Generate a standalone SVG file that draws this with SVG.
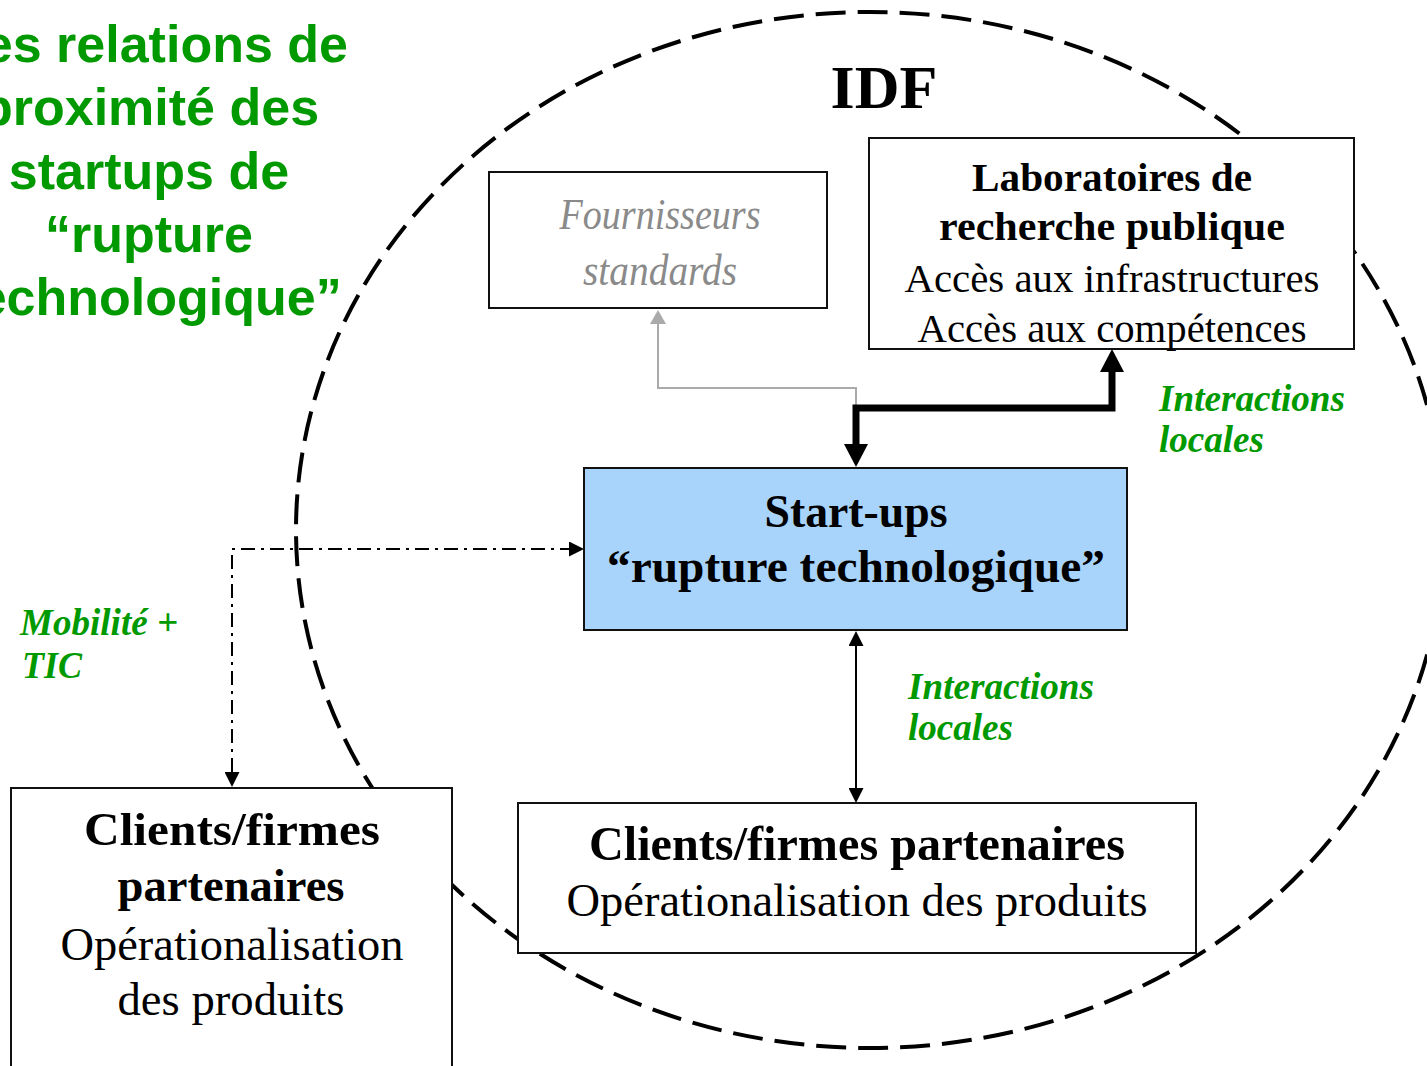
<svg xmlns="http://www.w3.org/2000/svg" width="1427" height="1066" viewBox="0 0 1427 1066">
<style>
.title{font-family:"Liberation Sans",Arial,sans-serif;font-weight:bold;font-size:52px;fill:#009900;text-anchor:middle}
.box{fill:#ffffff;stroke:#111111;stroke-width:2}
.serif{font-family:"Liberation Serif","Times New Roman",serif;text-anchor:middle;fill:#000000}
.b{font-weight:bold}
.lab{font-family:"Liberation Serif","Times New Roman",serif;font-weight:bold;font-style:italic;font-size:38px;fill:#009900}
.gray{font-style:italic;fill:#8a8a8a;font-size:44px}
</style>
<defs>
<marker id="headThick" viewBox="0 0 23 24" markerUnits="userSpaceOnUse" markerWidth="23" markerHeight="24" refX="0" refY="12" orient="auto-start-reverse"><path d="M0,0 L23,12 L0,24 Z" fill="#000"/></marker>
<marker id="headThin" viewBox="0 0 15 15" markerUnits="userSpaceOnUse" markerWidth="15" markerHeight="15" refX="0" refY="7.5" orient="auto-start-reverse"><path d="M0,0 L15,7.5 L0,15 Z" fill="#000"/></marker>
<marker id="headGray" viewBox="0 0 14 16" markerUnits="userSpaceOnUse" markerWidth="14" markerHeight="16" refX="0" refY="8" orient="auto-start-reverse"><path d="M0,0 L14,8 L0,16 Z" fill="#aaaaaa"/></marker>
</defs>
<rect x="0" y="0" width="1427" height="1066" fill="#ffffff"/>
<g id="idf-zone">
<ellipse cx="870" cy="530" rx="574" ry="518" fill="none" stroke="#000" stroke-width="4" stroke-dasharray="30 12"/>
<text class="serif b" x="884" y="108" font-size="62">IDF</text>
</g>
<g id="title">
<text class="title" x="150" y="62">Les relations de</text>
<text class="title" x="150" y="125">proximité des</text>
<text class="title" x="149" y="189">startups de</text>
<text class="title" x="149" y="252">“rupture</text>
<text class="title" x="151" y="315">technologique”</text>
</g>
<g id="connectors" fill="none">
<path d="M856,406 V388 H658 V324" stroke="#aaaaaa" stroke-width="2" marker-end="url(#headGray)"/>
<path d="M1112,372 V408 H856 V444" stroke="#000" stroke-width="7" marker-start="url(#headThick)" marker-end="url(#headThick)"/>
<path d="M856,646 V788" stroke="#000" stroke-width="2" marker-start="url(#headThin)" marker-end="url(#headThin)"/>
<path d="M232,772 V549 H569" stroke="#000" stroke-width="2" stroke-dasharray="14 6 3 6" marker-start="url(#headThin)" marker-end="url(#headThin)"/>
</g>
<g id="node-fournisseurs">
<rect class="box" x="489" y="172" width="338" height="136"/>
<text class="serif gray" x="660" y="229" textLength="201" lengthAdjust="spacingAndGlyphs">Fournisseurs</text>
<text class="serif gray" x="660" y="285" textLength="154" lengthAdjust="spacingAndGlyphs">standards</text>
</g>
<g id="node-laboratoires">
<rect class="box" x="869" y="138" width="485" height="211"/>
<text class="serif b" x="1112" y="191" font-size="41" textLength="280" lengthAdjust="spacingAndGlyphs">Laboratoires de</text>
<text class="serif b" x="1112" y="240" font-size="41" textLength="346" lengthAdjust="spacingAndGlyphs">recherche publique</text>
<text class="serif" x="1112" y="292" font-size="41" textLength="415" lengthAdjust="spacingAndGlyphs">Accès aux infrastructures</text>
<text class="serif" x="1112" y="342" font-size="41" textLength="389" lengthAdjust="spacingAndGlyphs">Accès aux compétences</text>
</g>
<g id="node-startups">
<rect x="584" y="468" width="543" height="162" fill="#a8d4fc" stroke="#111111" stroke-width="2"/>
<text class="serif b" x="856" y="527" font-size="47" textLength="183" lengthAdjust="spacingAndGlyphs">Start-ups</text>
<text class="serif b" x="856" y="582" font-size="47" textLength="498" lengthAdjust="spacingAndGlyphs">“rupture technologique”</text>
</g>
<g id="node-clients-idf">
<rect class="box" x="518" y="803" width="678" height="150"/>
<text class="serif b" x="857" y="860" font-size="48" textLength="536" lengthAdjust="spacingAndGlyphs">Clients/firmes partenaires</text>
<text class="serif" x="857" y="916" font-size="47" textLength="581" lengthAdjust="spacingAndGlyphs">Opérationalisation des produits</text>
</g>
<g id="node-clients-ext">
<rect class="box" x="11" y="788" width="441" height="290"/>
<text class="serif b" x="232" y="845" font-size="47" textLength="296" lengthAdjust="spacingAndGlyphs">Clients/firmes</text>
<text class="serif b" x="231" y="901" font-size="47" textLength="227" lengthAdjust="spacingAndGlyphs">partenaires</text>
<text class="serif" x="232" y="960" font-size="47" textLength="343" lengthAdjust="spacingAndGlyphs">Opérationalisation</text>
<text class="serif" x="231" y="1015" font-size="47" textLength="227" lengthAdjust="spacingAndGlyphs">des produits</text>
</g>
<g id="labels">
<text class="lab" x="1159" y="411" textLength="186" lengthAdjust="spacingAndGlyphs">Interactions</text>
<text class="lab" x="1159" y="452" textLength="105" lengthAdjust="spacingAndGlyphs">locales</text>
<text class="lab" x="908" y="699" textLength="186" lengthAdjust="spacingAndGlyphs">Interactions</text>
<text class="lab" x="908" y="740" textLength="105" lengthAdjust="spacingAndGlyphs">locales</text>
<text class="lab" x="20" y="635" textLength="158" lengthAdjust="spacingAndGlyphs">Mobilité +</text>
<text class="lab" x="22" y="678" textLength="60" lengthAdjust="spacingAndGlyphs">TIC</text>
</g>
</svg>
